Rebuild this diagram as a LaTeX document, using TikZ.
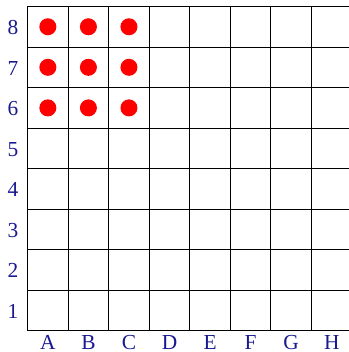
\documentclass[tikz,border=0pt]{standalone}
\definecolor{labelblue}{RGB}{25, 25, 145}
\definecolor{stonered}{RGB}{255, 0, 0}
\usepackage{fontspec}
\setmainfont{Liberation Serif}
\usepackage{tikz}
\usetikzlibrary{positioning, calc}

\tikzset{
  gridline/.style={draw=black, line width=0.7pt},
  boardlabel/.style={text=labelblue, font=\fontsize{15}{18}\selectfont, inner sep=0pt},
  stone/.style={circle, fill=stonered, minimum size=0.42cm, inner sep=0pt}
}

\begin{document}
\begin{tikzpicture}
  \useasboundingbox (-0.68,-0.52) rectangle (7.91,8.16);
  % board
  \draw[gridline] (0,0) grid (8,8);
  % row numbers
  \foreach \r in {1,...,8}
    \node[boardlabel] (row\r) at (-0.36,\r-0.52) {\r};
  % column letters
  \foreach \c [count=\i] in {A,B,C,D,E,F,G,H}
    \node[boardlabel] (col\c) at (\i-0.5,-0.28) {\c};
  % stones
  \foreach \c [count=\i] in {A,B,C}
    \foreach \r in {6,7,8}
      \node[stone] (stone\c\r) at (\i-0.5,\r-0.5) {};
\end{tikzpicture}
\end{document}
